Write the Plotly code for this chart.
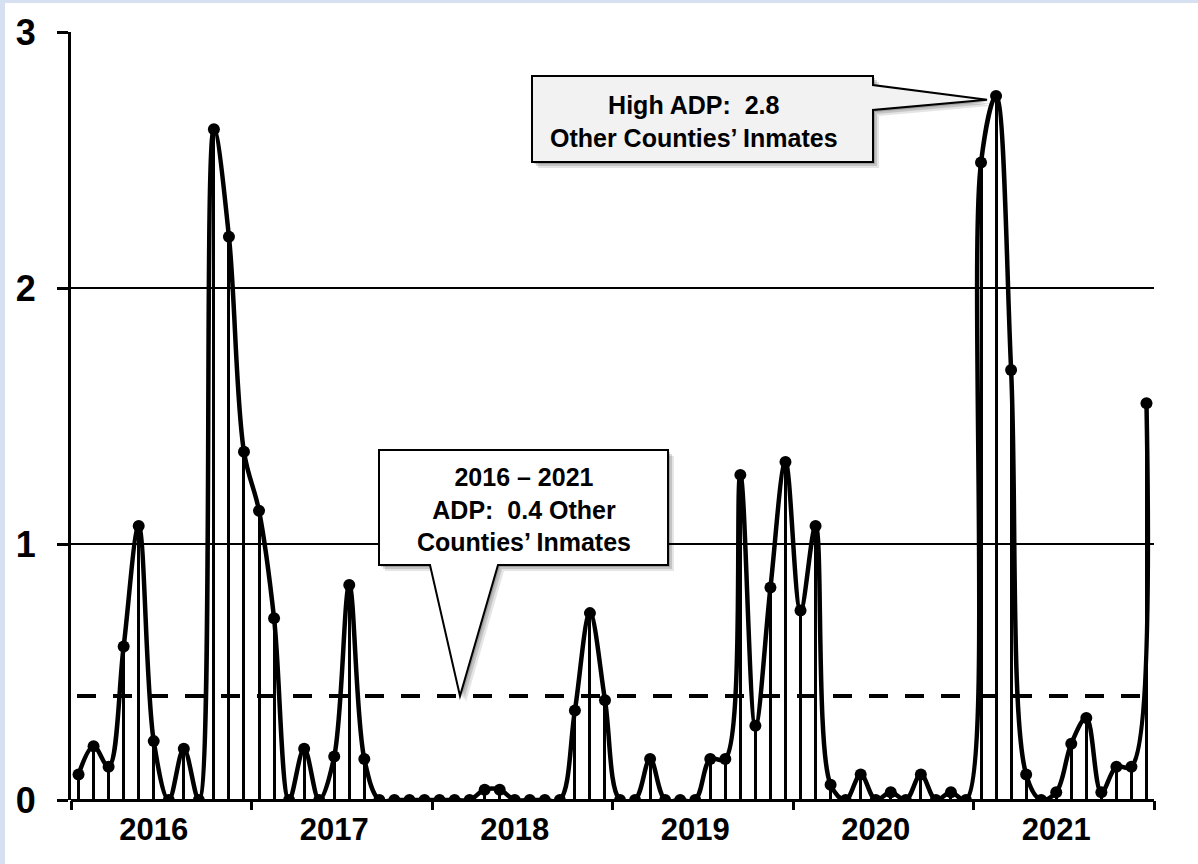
import plotly.graph_objects as go

years = ["2016", "2017", "2018", "2019", "2020", "2021"]
months = list(range(72))
adp = [0.10, 0.21, 0.13, 0.60, 1.07, 0.23, 0.00, 0.20, 0.00, 2.62, 2.20, 1.36,
       1.13, 0.71, 0.00, 0.20, 0.00, 0.17, 0.84, 0.16, 0.00, 0.00, 0.00, 0.00,
       0.00, 0.00, 0.00, 0.04, 0.04, 0.00, 0.00, 0.00, 0.00, 0.35, 0.73, 0.39,
       0.00, 0.00, 0.16, 0.00, 0.00, 0.00, 0.16, 0.16, 1.27, 0.29, 0.83, 1.32,
       0.74, 1.07, 0.06, 0.00, 0.10, 0.00, 0.03, 0.00, 0.10, 0.00, 0.03, 0.00,
       2.49, 2.75, 1.68, 0.10, 0.00, 0.03, 0.22, 0.32, 0.03, 0.13, 0.13, 1.55]
avg_adp = 0.406
high_text = "<b>High ADP:  2.8<br>Other Counties’ Inmates</b>"
avg_text = "<b>2016 – 2021<br>ADP:  0.4 Other<br>Counties’ Inmates</b>"

W, H = 1198, 864
L, R, T, B = 71, 44, 32, 64
pw, ph = W - L - R, H - T - B
XR = [-0.5, 71.5]
YR = [0, 3]


def px_x(p):
    return XR[0] + (p - L) / pw * (XR[1] - XR[0])


def px_y(p):
    return YR[1] - (p - T) / ph * (YR[1] - YR[0])


FONT = "Liberation Sans, Arial, sans-serif"

fig = go.Figure()

# drop lines
fig.add_trace(go.Bar(x=months, y=adp, width=0.2, marker=dict(color="black", line=dict(width=0)),
                     hoverinfo="skip", showlegend=False))
# average dashed line
fig.add_trace(go.Scatter(x=[px_x(77), px_x(1150)], y=[avg_adp, avg_adp], mode="lines",
                         line=dict(color="black", width=4, dash="19px,17px"), showlegend=False))
# smoothed series
fig.add_trace(go.Scatter(x=months, y=adp, mode="lines+markers",
                         line=dict(color="black", width=4.5, shape="spline", smoothing=1.0),
                         marker=dict(color="black", size=12), showlegend=False))

shapes = []
# white page area (light blue band left/top)
shapes.append(dict(type="rect", xref="paper", yref="paper",
                   x0=(5 - L) / pw, x1=(W - L) / pw + 0.01,
                   y0=-(B + 5) / ph, y1=1 + (T - 3) / ph,
                   fillcolor="white", line=dict(width=0), layer="below"))

# callout 1 (high)
peak_i = max(range(len(adp)), key=lambda i: adp[i])
tip1 = (peak_i - 0.6, adp[peak_i] - 0.015)
b1 = dict(l=px_x(532), r=px_x(873), t=px_y(76), b=px_y(162))
ya, yb = px_y(85), px_y(110)


def path1(dx=0.0, dy=0.0):
    pts = [(b1["l"], b1["t"]), (b1["r"], b1["t"]), (b1["r"], ya), tip1, (b1["r"], yb),
           (b1["r"], b1["b"]), (b1["l"], b1["b"])]
    return "M " + " L ".join(f"{x + dx},{y + dy}" for x, y in pts) + " Z"


# callout 2 (average)
b2 = dict(l=px_x(379), r=px_x(668), t=px_y(450), b=px_y(565))
tip2 = (px_x(460), avg_adp)
base_a, base_b = px_x(430), px_x(498)


def path2(dx=0.0, dy=0.0):
    pts = [(b2["l"], b2["t"]), (b2["r"], b2["t"]), (b2["r"], b2["b"]), (base_b, b2["b"]), tip2,
           (base_a, b2["b"]), (b2["l"], b2["b"])]
    return "M " + " L ".join(f"{x + dx},{y + dy}" for x, y in pts) + " Z"


sx = (XR[1] - XR[0]) / pw
sy = (YR[1] - YR[0]) / ph
for k, a in [(6, 0.10), (4, 0.14), (2, 0.18)]:
    shapes.append(dict(type="path", xref="x", yref="y", path=path1(k * sx, -k * sy),
                       fillcolor=f"rgba(0,0,0,{a})", line=dict(width=0), layer="above"))
    shapes.append(dict(type="path", xref="x", yref="y", path=path2(k * sx, -k * sy),
                       fillcolor=f"rgba(0,0,0,{a})", line=dict(width=0), layer="above"))
shapes.append(dict(type="path", xref="x", yref="y", path=path1(), fillcolor="#f2f2f2",
                   line=dict(color="black", width=2), layer="above"))
shapes.append(dict(type="path", xref="x", yref="y", path=path2(), fillcolor="white",
                   line=dict(color="black", width=2), layer="above"))

annotations = [
    dict(x=px_x(694), y=px_y(121), xref="x", yref="y", text=high_text, showarrow=False,
         font=dict(family=FONT, size=25, color="black"), xanchor="center", yanchor="middle"),
    dict(x=px_x(524), y=px_y(509), xref="x", yref="y", text=avg_text, showarrow=False,
         font=dict(family=FONT, size=25, color="black"), xanchor="center", yanchor="middle"),
]

fig.update_layout(
    width=W, height=H,
    margin=dict(l=L, r=R, t=T, b=B, pad=0),
    paper_bgcolor="#d6e0f1", plot_bgcolor="white",
    font=dict(family=FONT, color="black"),
    shapes=shapes, annotations=annotations,
    bargap=0, showlegend=False,
    xaxis=dict(range=XR, tickvals=[5.0 + 12 * k for k in range(6)], ticktext=[f"<b>{y}</b>" for y in years],
               ticks="", showgrid=False, zeroline=False, showline=False,
               tickfont=dict(family=FONT, size=31, color="black"), ticklabelstandoff=8,
               minor=dict(tickvals=[-0.5 + 12 * k for k in range(7)], ticks="outside", ticklen=9,
                          tickwidth=3, tickcolor="black", showgrid=False)),
    yaxis=dict(range=YR, tickvals=[0, 1, 2, 3], ticktext=["<b>0</b>", "<b>1</b>", "<b>2</b>", "<b>3</b>"],
               ticks="outside", ticklen=11, tickwidth=3, tickcolor="black",
               showgrid=True, gridcolor="black", gridwidth=1.5,
               showline=True, linecolor="black", linewidth=3,
               zeroline=True, zerolinecolor="black", zerolinewidth=3,
               tickfont=dict(family=FONT, size=36, color="black"), ticklabelstandoff=14),
)

fig.write_html("out.html", config={"displayModeBar": False},
               post_script="document.body.style.margin='0px';document.body.style.padding='0px';")
